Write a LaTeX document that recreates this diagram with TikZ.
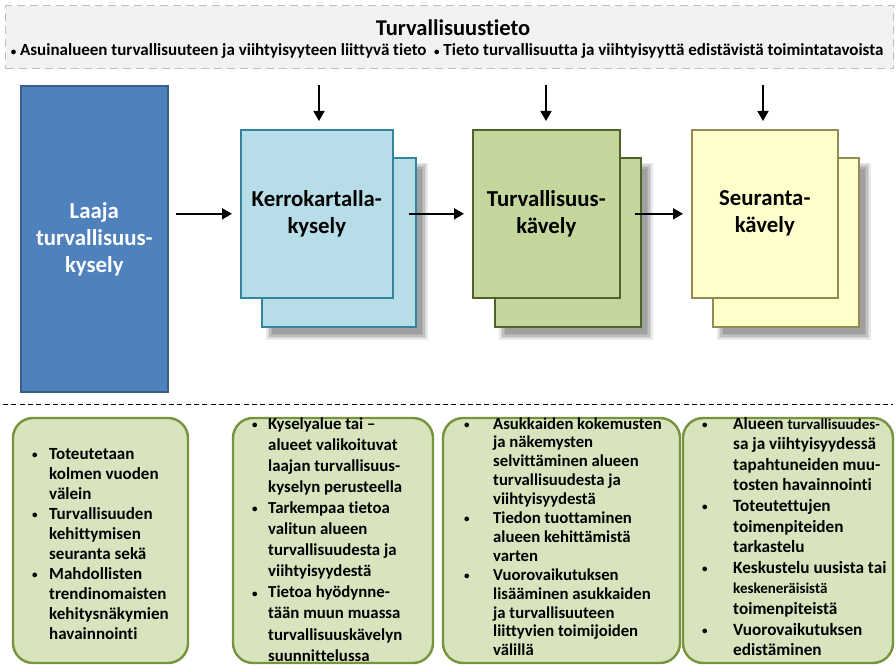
\documentclass[tikz,border=0pt]{standalone}
\usepackage{fontspec}
\setmainfont{Carlito}[Ligatures={NoCommon,NoContextual,NoRare}, Contextuals=NoAlternate, RawFeature={-liga;-clig;-calt}]
\usetikzlibrary{arrows.meta}
\definecolor{topfill}{HTML}{F2F2F2}
\definecolor{topdraw}{HTML}{BFBFBF}
\definecolor{bluefill}{HTML}{4F81BD}
\definecolor{bluedraw}{HTML}{385D8A}
\definecolor{kfill}{HTML}{B7DEE8}
\definecolor{kdraw}{HTML}{31859C}
\definecolor{tfill}{HTML}{C3D69B}
\definecolor{tdraw}{HTML}{4F6228}
\definecolor{sfill}{HTML}{FFFFCC}
\definecolor{sdraw}{HTML}{948A54}
\definecolor{bfill}{HTML}{D7E4BD}
\definecolor{bdraw}{HTML}{77933C}
\newcommand\bul{\raisebox{0.8pt}{\fontsize{11}{11}\selectfont\textbullet}}
\newcommand\smalltxt[1]{{\fontsize{15}{15}\selectfont #1}}
\tikzset{
  box/.style={draw, line width=1.6pt, inner sep=0pt, align=center, anchor=north west,
    font=\bfseries\fontsize{22.8}{27}\selectfont},
  infobox/.style={draw=bdraw, fill=bfill, line width=2.4pt, rounded corners=20pt},
  infotext/.style={inner sep=0pt, anchor=base west, align=left},
  flow/.style={line width=1.6pt, -{Triangle[length=10pt,width=11pt]}},
}
\newcommand\shadowof[1]{%
  \foreach \e in {-3,-1.5,0,1.5,3}
    \fill[black,opacity=.085] ([xshift={8pt+(\e)*1pt}, yshift={-9pt-(\e)*1pt}]#1.north west)
      rectangle ([xshift={8pt-(\e)*1pt}, yshift={-9pt+(\e)*1pt}]#1.south east);}
\begin{document}
\begin{tikzpicture}[x=1pt,y=-1pt]
\useasboundingbox[fill=white] (0,0) rectangle (896,668);
% top banner
\node[draw=topdraw, fill=topfill, line width=1.3pt, dash pattern=on 8pt off 5pt,
  minimum width=888pt, minimum height=63pt, anchor=north west, inner sep=0pt] (top) at (5,5) {};
\node[inner sep=0pt, anchor=base, font=\bfseries\fontsize{22.5}{26}\selectfont] (title) at (453,36) {Turvallisuustieto};
\node[inner sep=0pt, anchor=base, font=\bfseries\fontsize{17}{20}\selectfont] (sub) at (447,56)
  {\bul\ Asuinalueen turvallisuuteen ja viihtyisyyteen liittyvä tieto\ \ \bul\ Tieto turvallisuutta ja viihtyisyyttä edistävistä toimintatavoista};
% blue box
\node[box, draw=bluedraw, fill=bluefill, text=white, minimum width=147pt, minimum height=306pt] (laaja) at (20,85)
  {Laaja\\turvallisuus-\\kysely};
% stacked cards: back sheets with shadow
\node[box, draw=kdraw, fill=kfill, minimum width=154pt, minimum height=169pt] (kb) at (261,157) {};
\node[box, draw=tdraw, fill=tfill, minimum width=146pt, minimum height=169pt] (tb) at (494,157) {};
\node[box, draw=sdraw, fill=sfill, minimum width=146pt, minimum height=169pt] (sb) at (712,157) {};
\shadowof{kb}\shadowof{tb}\shadowof{sb}
\node[box, draw=kdraw, fill=kfill, minimum width=154pt, minimum height=169pt] at (261,157) {};
\node[box, draw=tdraw, fill=tfill, minimum width=146pt, minimum height=169pt] at (494,157) {};
\node[box, draw=sdraw, fill=sfill, minimum width=146pt, minimum height=169pt] at (712,157) {};
% front sheets
\node[box, draw=kdraw, fill=kfill, minimum width=152pt, minimum height=168pt] (kf) at (240,129) {Kerrokartalla-\\kysely};
\node[box, draw=tdraw, fill=tfill, minimum width=147pt, minimum height=168pt] (tf) at (472,129) {Turvallisuus-\\kävely};
\node[box, draw=sdraw, fill=sfill, minimum width=146pt, minimum height=168pt] (sf) at (691,129) {Seuranta-\\kävely};
% arrows
\coordinate (ka) at (319,85);
\coordinate (ta) at (546,85);
\coordinate (sa) at (763,85);
\draw[flow, shorten >=8pt] (ka) -- (ka |- kf.north);
\draw[flow, shorten >=8pt] (ta) -- (ta |- tf.north);
\draw[flow, shorten >=8pt] (sa) -- (sa |- sf.north);
\draw[flow, shorten <=7pt, shorten >=8pt] (laaja.east |- kf.west) -- (kf.west);
\draw[flow, shorten >=8pt] ([xshift=15pt]kf.east) -- (tf.west);
\draw[flow, shorten >=8pt] ([xshift=14pt]tf.east) -- (sf.west);
% separator
\coordinate (sepL) at (3,404);
\coordinate (sepR) at (893,404);
\draw[line width=0.9pt, dash pattern=on 5pt off 3.3pt] (sepL) -- (sepR);
% info boxes
\draw[infobox] (13,418) rectangle (188,663);
\draw[infobox] (233,418) rectangle (433,663);
\draw[infobox] (443,418) rectangle (680,663);
\draw[infobox] (683,418) rectangle (893,663);
\node[infotext, font=\bfseries\fontsize{17}{20}\selectfont] (i1) at (32,459) {%
\begin{tabular}[t]{@{}p{17pt}@{}l@{}}
\bul & Toteutetaan\\ & kolmen vuoden\\ & välein\\
\bul & Turvallisuuden\\ & kehittymisen\\ & seuranta sekä\\
\bul & Mahdollisten\\ & trendinomaisten\\ & kehitysnäkymien\\ & havainnointi
\end{tabular}};
\node[infotext, font=\bfseries\fontsize{16.8}{21.1}\selectfont] (i2) at (252,429) {%
\begin{tabular}[t]{@{}p{16pt}@{}l@{}}
\bul & Kyselyalue tai –\\ & alueet valikoituvat\\ & laajan turvallisuus-\\ & kyselyn perusteella\\
\bul & Tarkempaa tietoa\\ & valitun alueen\\ & turvallisuudesta ja\\ & viihtyisyydestä\\
\bul & Tietoa hyödynne-\\ & tään muun muassa\\ & turvallisuuskävelyn\\ & suunnittelussa
\end{tabular}};
\node[infotext, font=\bfseries\fontsize{16.7}{18.9}\selectfont] (i3) at (464,429) {%
\begin{tabular}[t]{@{}p{29pt}@{}l@{}}
\bul & Asukkaiden kokemusten\\ & ja näkemysten\\ & selvittäminen alueen\\ & turvallisuudesta ja\\ & viihtyisyydestä\\
\bul & Tiedon tuottaminen\\ & alueen kehittämistä\\ & varten\\
\bul & Vuorovaikutuksen\\ & lisääminen asukkaiden\\ & ja turvallisuuteen\\ & liittyvien toimijoiden\\ & välillä
\end{tabular}};
\node[infotext, font=\bfseries\fontsize{17.2}{20.6}\selectfont] (i4) at (702,429) {%
\begin{tabular}[t]{@{}p{31pt}@{}l@{}}
\bul & Alueen \smalltxt{turvallisuudes-}\\ & sa ja viihtyisyydessä\\ & tapahtuneiden muu-\\ & tosten havainnointi\\
\bul & Toteutettujen\\ & toimenpiteiden\\ & tarkastelu\\
\bul & Keskustelu uusista tai\\ & \smalltxt{keskeneräisistä}\\ & toimenpiteistä\\
\bul & Vuorovaikutuksen\\ & edistäminen
\end{tabular}};
\end{tikzpicture}
\end{document}
